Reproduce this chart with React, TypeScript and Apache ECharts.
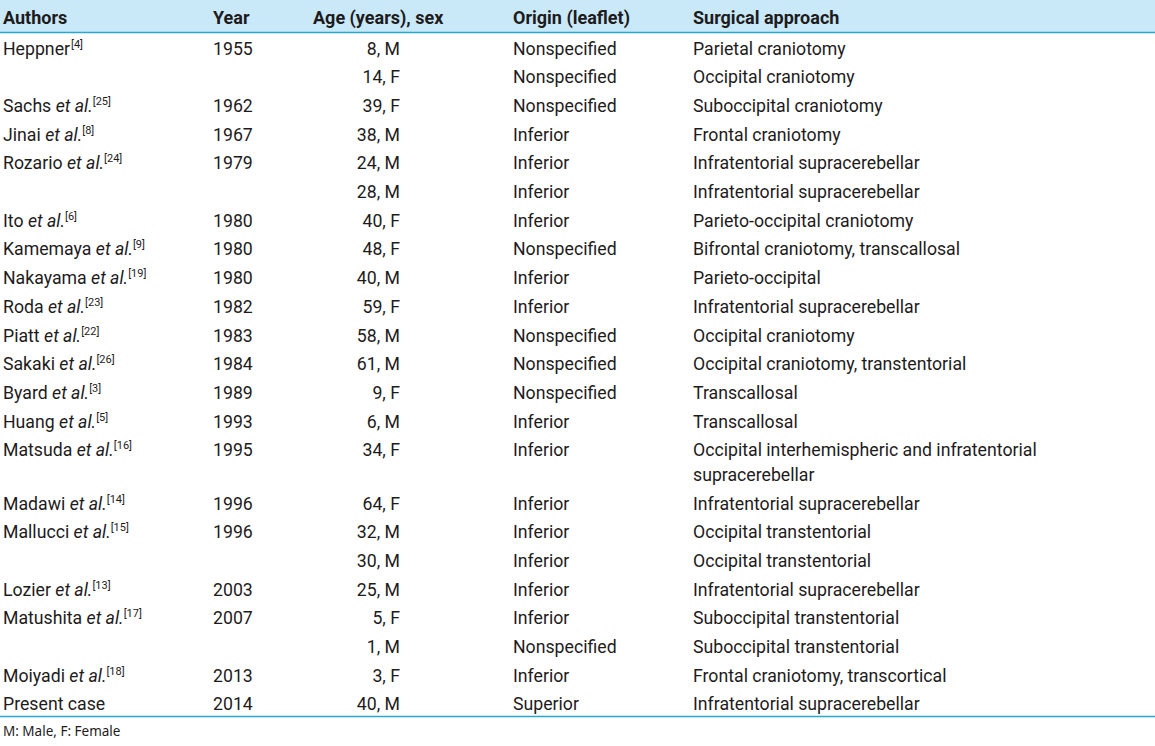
import React, { useEffect, useRef } from "react";
import * as echarts from "echarts";

const headers = ["Authors", "Year", "Age (years), sex", "Origin (leaflet)", "Surgical approach"];

const authorNames = ["Heppner", "", "Sachs", "Jinai", "Rozario", "", "Ito", "Kamemaya", "Nakayama", "Roda", "Piatt", "Sakaki", "Byard", "Huang", "Matsuda", "Madawi", "Mallucci", "", "Lozier", "Matushita", "", "Moiyadi", "Present case"];
const authorEtAl = [false, false, true, true, true, false, true, true, true, true, true, true, true, true, true, true, true, false, true, true, false, true, false];
const authorRefs = ["4", "", "25", "8", "24", "", "6", "9", "19", "23", "22", "26", "3", "5", "16", "14", "15", "", "13", "17", "", "18", ""];
const years = ["1955", "", "1962", "1967", "1979", "", "1980", "1980", "1980", "1982", "1983", "1984", "1989", "1993", "1995", "1996", "1996", "", "2003", "2007", "", "2013", "2014"];
const ages = ["8, M", "14, F", "39, F", "38, M", "24, M", "28, M", "40, F", "48, F", "40, M", "59, F", "58, M", "61, M", "9, F", "6, M", "34, F", "64, F", "32, M", "30, M", "25, M", "5, F", "1, M", "3, F", "40, M"];
const origins = ["Nonspecified", "Nonspecified", "Nonspecified", "Inferior", "Inferior", "Inferior", "Inferior", "Nonspecified", "Inferior", "Inferior", "Nonspecified", "Nonspecified", "Nonspecified", "Inferior", "Inferior", "Inferior", "Inferior", "Inferior", "Inferior", "Inferior", "Nonspecified", "Inferior", "Superior"];
const approaches = [
  "Parietal craniotomy",
  "Occipital craniotomy",
  "Suboccipital craniotomy",
  "Frontal craniotomy",
  "Infratentorial supracerebellar",
  "Infratentorial supracerebellar",
  "Parieto-occipital craniotomy",
  "Bifrontal craniotomy, transcallosal",
  "Parieto-occipital",
  "Infratentorial supracerebellar",
  "Occipital craniotomy",
  "Occipital craniotomy, transtentorial",
  "Transcallosal",
  "Transcallosal",
  "Occipital interhemispheric and infratentorial\nsupracerebellar",
  "Infratentorial supracerebellar",
  "Occipital transtentorial",
  "Occipital transtentorial",
  "Infratentorial supracerebellar",
  "Suboccipital transtentorial",
  "Suboccipital transtentorial",
  "Frontal craniotomy, transcortical",
  "Infratentorial supracerebellar",
];
const footnote = "M: Male, F: Female";

export default function App() {
  const ref = useRef<HTMLDivElement>(null);
  useEffect(() => {
    document.body.style.margin = "0";
    const chart = echarts.init(ref.current!, undefined, { renderer: "svg" });
    const FONT = "Roboto, 'Liberation Sans', sans-serif";
    const FS = 17.7;
    const COLOR = "#1e1b1c";
    const rowH = 28.7;
    const wrapH = 24.5;
    const firstY = 48.5;
    const colX = [3, 213, 400, 513, 693];
    const els: any[] = [];
    els.push({ type: "rect", shape: { x: 0, y: 0, width: 1155, height: 32 }, style: { fill: "#c9e9f9" }, silent: true });
    els.push({ type: "line", shape: { x1: 0, y1: 32.5, x2: 1155, y2: 32.5 }, style: { stroke: "#2aa7cc", lineWidth: 1.6 } });
    const hx = [3, 213, 313, 513, 693];
    headers.forEach((h, i) => {
      els.push({
        type: "text",
        x: hx[i],
        y: 17,
        style: { text: h, font: `bold 18px ${FONT}`, fill: COLOR, textAlign: "left", textVerticalAlign: "middle" },
      });
    });
    let extra = 0;
    authorNames.forEach((name, r) => {
      const y = firstY + rowH * r + extra;
      if (name) {
        let t = `{n|${name}}`;
        if (authorEtAl[r]) t += `{n| }{i|et al.}`;
        if (authorRefs[r]) t += `{s|[${authorRefs[r]}]}`;
        els.push({
          type: "text",
          x: colX[0],
          y,
          style: {
            text: t,
            textAlign: "left",
            textVerticalAlign: "middle",
            rich: {
              n: { fontFamily: FONT, fontSize: FS, fill: COLOR, lineHeight: 20 },
              i: { fontFamily: FONT, fontSize: FS, fontStyle: "italic", fill: COLOR, lineHeight: 20 },
              s: { fontFamily: FONT, fontSize: 11, fill: COLOR, lineHeight: 11, verticalAlign: "top", padding: [0, 0, 0, authorEtAl[r] ? 0 : 1] },
            },
          },
        });
      }
      const cells = [years[r], ages[r], origins[r]];
      const cx = [colX[1], colX[2], colX[3]];
      cells.forEach((c, k) => {
        if (!c) return;
        els.push({
          type: "text",
          x: cx[k],
          y,
          style: { text: c, font: `${FS}px ${FONT}`, fill: COLOR, textAlign: k === 1 ? "right" : "left", textVerticalAlign: "middle" },
        });
      });
      const lines = approaches[r].split("\n");
      lines.forEach((ln, k) => {
        els.push({
          type: "text",
          x: colX[4],
          y: y + k * wrapH,
          style: { text: ln, font: `${FS}px ${FONT}`, fill: COLOR, textAlign: "left", textVerticalAlign: "middle" },
        });
      });
      extra += (lines.length - 1) * wrapH;
    });
    els.push({ type: "line", shape: { x1: 0, y1: 716.5, x2: 1155, y2: 716.5 }, style: { stroke: "#2aa7cc", lineWidth: 1.4 } });
    els.push({
      type: "text",
      x: 3,
      y: 731,
      style: { text: footnote, font: `13.5px 'Noto Sans', sans-serif`, fill: COLOR, textAlign: "left", textVerticalAlign: "middle" },
    });
    chart.setOption({ animation: false, backgroundColor: "#ffffff", graphic: { elements: els } });
    return () => chart.dispose();
  }, []);
  return <div ref={ref} style={{ width: 1155, height: 746 }} />;
}
